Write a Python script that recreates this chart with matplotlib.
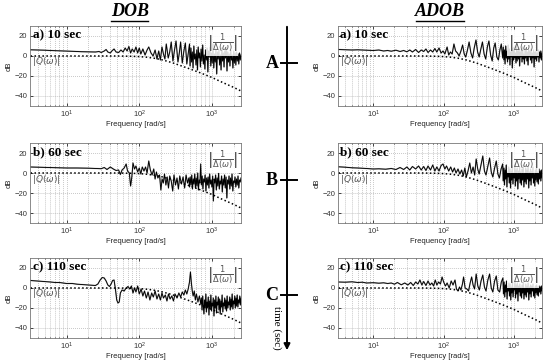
import numpy as np
import matplotlib
matplotlib.use("Agg")
import matplotlib.pyplot as plt
from matplotlib.lines import Line2D
from matplotlib.patches import FancyArrowPatch

# Q filter magnitude (dotted)
q_freq = [3.2, 50, 80, 100, 130, 160, 200, 250, 300, 400, 500, 700, 1000, 1400, 2000, 2500]
q_db = [0, 0, -0.3, -0.6, -1.3, -2.2, -3.6, -5.5, -7.3, -10.5, -13, -17, -21.5, -26.5, -31.5, -35]

# |1/Delta| curves: sparse low-frequency part (freq, dB) + dense high-frequency part (dB)
dob_a_lo = [(3.2, 6.2), (4, 6), (5, 5.8), (6, 5.5), (8, 5.2), (10, 5), (13, 4.6), (16, 4.3), (20, 4.2),
            (25, 4), (28, 4.5), (30, 3.5), (33, 5), (35, 6.5), (37, 4), (40, 3), (42, 5), (45, 7), (48, 4),
            (52, 3.5), (56, 6), (60, 4), (64, 8), (68, 5), (72, 9.5), (76, 3), (80, 7), (85, 4), (90, 9),
            (95, 3), (100, 8), (105, 2), (112, 7), (120, 1), (128, 6), (135, 9), (145, 3), (155, 0),
            (165, 6), (175, -3), (185, 5), (195, -4), (205, 9), (215, 2), (225, -3), (235, 12), (250, -2),
            (262, 4), (275, 14), (290, -5), (305, 6), (320, 15), (340, -6), (355, 3), (370, 14), (390, -7),
            (410, 5), (430, 13), (450, -8), (470, 2), (490, 12)]
dob_a_hi = [-10, 8, -6, 4, -12, 10, -3, 2, -9, 6, -14, 9, -2, 3, -11, 7, -5, 11, -8, 1, -13, 6, -4, 8,
            -16, 5, -1, 9, -10, 3, -7, 12, -12, 2, -6, 7, -18, 4, -3, 6, -9, 1, -14, 8, -5, 3, -11, 5,
            -2, 9, -15, 4, -6, 2, -10, 6, -4, 1, -12, 5, -7, 3, -9, 4, -5, 2, -8, 3, -4, 1]

dob_b_lo = [(3.2, 6), (4, 5.8), (5, 5.5), (7, 5.2), (10, 5), (14, 5), (20, 4.8), (25, 4.5), (30, 4.3),
            (33, 5.5), (36, 3.5), (40, 6), (44, 4), (48, 2.5), (52, 3), (55, -1.5), (58, 3), (62, 5),
            (66, 9), (69, 2), (73, 0), (76, -13), (79, -4), (82, 10), (86, 4), (90, 7), (95, 1), (100, 5),
            (105, -1), (110, 6), (116, 2), (122, 6), (128, 0), (135, 12), (142, 3), (150, -2), (158, 4),
            (165, -6), (172, 1), (180, -5), (190, -2), (198, -17), (206, -6), (214, -10), (222, -1),
            (232, -12), (242, -4), (252, -15), (262, -3), (275, -8), (288, -18), (300, -2), (315, -12),
            (330, -5), (345, -16), (360, -3), (380, -11), (400, -4), (420, -15), (440, -2), (460, -10),
            (480, -5)]
dob_b_hi = [-14, -4, -12, -2, -16, -6, -11, -1, -15, -5, -13, 0, -17, -7, -10, 9, -12, -3, -16, -6,
            -9, -2, -18, -5, -12, -4, -15, -1, -11, -7, -14, -3, -28, -6, -10, -2, -17, -5, -13, 0,
            -16, -8, -11, -3, -19, -6, -12, -2, -15, -4, -25, -7, -11, -3, -16, -5, -13, -1, -18, -8,
            -10, -4, -14, -6, -12, -3, -15, -7, -9, -5]

dob_c_lo = [(3.2, 7.5), (4, 7), (5, 6.5), (6, 6), (7, 5.5), (8, 5.5), (9, 5), (10, 4.5), (12, 4.5),
            (14, 3.8), (16, 3.5), (19, 3.2), (22, 2.8), (25, 2.5), (27, 4), (29, 8), (31, 10.5), (33, 10),
            (35, 7), (37, 3), (39, 1.5), (41, 4), (43, 7.5), (45, 8), (47, -1), (49, -12), (51, -15),
            (53, -14), (55, -5), (58, -2), (62, -3), (66, 0), (70, 1.5), (74, -1), (78, 2), (82, -5),
            (86, 0), (90, -4), (95, 2), (100, -6), (106, -1), (112, -8), (118, -3), (125, -10), (132, -4),
            (140, -12), (148, -5), (156, -9), (165, -3), (175, -11), (185, -6), (195, -12), (205, -5),
            (215, -10), (228, -7), (240, -13), (252, -6), (265, -11), (280, -8), (295, -13), (310, -6),
            (330, -10), (350, -5), (370, -9), (390, -4), (410, -7), (430, -2), (450, -6), (470, -1),
            (490, 6), (505, 16), (520, 5), (535, -3), (550, -8), (570, -3), (590, -12), (610, -6),
            (640, -14), (670, -8), (700, -16)]
dob_c_hi = [-10, -22, -8, -18, -26, -12, -20, -6, -24, -14, -19, -9, -27, -13, -21, -7, -23, -15, -18,
            -10, -28, -12, -20, -8, -25, -14, -17, -9, -22, -11, -26, -13, -19, -7, -24, -15, -18, -10,
            -21, -12, -23, -8, -20, -14, -17, -9, -22, -11, -19, -6, -21, -13, -16, -8, -20, -10, -18,
            -7, -19, -12, -15, -8, -17, -10]

adob_a_lo = [(3.2, 6.5), (4, 6.3), (5, 6), (6, 6.2), (8, 5.8), (10, 5.5), (12, 6), (14, 5), (16, 5.5),
             (18, 4.8), (21, 5.8), (24, 4.5), (27, 5.5), (30, 4.2), (33, 6), (36, 4), (40, 6.5), (44, 3.5),
             (48, 6), (52, 4.5), (56, 7), (60, 3.5), (65, 6), (70, 4), (75, 7.5), (80, 4), (86, 8), (92, 3),
             (98, 5), (104, 2), (112, 9), (118, 1), (125, 4), (132, 2), (140, 12), (148, 5), (157, 3),
             (166, 0), (176, 5), (186, 11), (196, 2), (206, -1), (218, 6), (230, 14), (244, 3), (258, -2),
             (272, 8), (288, 16), (304, 4), (320, -1), (338, 7), (356, 14), (376, 2), (396, -3), (418, 9),
             (440, 15), (465, 1), (490, -5), (515, 8), (540, 13), (570, -1), (600, -4), (630, 6),
             (660, 12), (690, -2)]
adob_a_hi = [9, -4, 6, -8, 10, -2, 5, -6, 11, -3, 7, -9, 4, -1, 8, -12, 6, -4, 9, -2, 3, -7, 10, -5,
             5, -3, 8, -10, 4, -1, 7, -6, 9, -3, 2, -8, 6, -2, 8, -5, 4, -9, 6, -1, 5, -4, 7, -7, 3, -2,
             6, -11, 4, -3, 5, -5, 3, -1, 6, -6, 4, -2, 5, -4, 3]

adob_b_lo = [(3.2, 6.2), (4, 5.8), (5, 5.2), (6, 5), (8, 4.5), (10, 4), (12, 4.2), (15, 3.8), (18, 4.5),
             (21, 3.5), (24, 5.5), (27, 3.5), (30, 6), (33, 3), (36, 6.5), (40, 4), (44, 7), (48, 3),
             (52, 6.5), (56, 2.5), (60, 7), (65, 3), (70, 8), (75, 2), (80, 6), (86, 2), (92, 7.5),
             (98, 9), (104, 4), (110, 7), (118, 2), (126, 6), (134, 1), (142, 5), (150, 0), (160, 4),
             (170, -1), (180, 3), (190, -3), (200, 5), (210, -4), (222, 2), (235, 10), (248, 0), (262, 6),
             (276, -2), (290, 14), (305, 4), (320, -1), (340, 8), (360, 17), (380, 2), (400, -2),
             (425, 7), (450, 15), (475, 1), (500, -4), (530, 5), (560, 12), (590, -1), (620, -5),
             (655, 4), (690, 9)]
adob_b_hi = [-8, 5, -12, 3, -6, 8, -14, 1, -4, 6, -10, 4, -15, 2, -7, 7, -11, 0, -5, 9, -13, 3, -8, 5,
             -16, 2, -6, 6, -10, 1, -12, 4, -7, 8, -14, 0, -9, 5, -11, 3, -6, 7, -15, 1, -8, 4, -12, 2,
             -5, 6, -10, 0, -13, 3, -7, 5, -9, 1, -11, 4, -6, 2, -8, 3, -5]

adob_c_lo = [(3.2, 6), (4, 5.8), (5, 6.2), (6, 5.5), (7, 5.8), (8, 5), (10, 5.3), (12, 4.8), (14, 5.2),
             (16, 4.5), (18, 5), (20, 3.8), (22, 5.5), (25, 3.2), (28, 5), (31, 3), (34, 5.5), (37, 2.5),
             (40, 6), (43, 4), (46, 8), (49, 3), (52, 6.5), (56, 2.5), (60, 7), (64, 3), (68, 5), (72, 2),
             (76, 8), (80, 3), (85, 6), (90, 4), (95, 11), (100, 6), (106, 2), (112, 5), (120, 0),
             (128, 7), (136, 3), (145, 8), (152, -1), (160, -3), (168, 1), (176, -2), (185, 4), (192, 11),
             (202, 0), (214, -1), (226, -3), (238, 5), (250, 11), (262, 3), (275, -1), (290, 14),
             (306, 2), (322, -2), (340, 7), (360, 13), (380, 1), (400, -3), (425, 8), (450, 14), (475, 0),
             (500, -4), (530, 7), (560, 12), (590, -2), (625, -4), (660, 6), (695, 10)]
adob_c_hi = [-6, 6, -9, 3, -4, 7, -11, 2, -3, 5, -8, 4, -12, 1, -5, 6, -9, 0, -2, 7, -10, 3, -6, 5,
             -13, 2, -4, 4, -8, 1, -10, 3, -5, 6, -11, 0, -7, 4, -9, 2, -4, 5, -12, 1, -6, 3, -9, 2,
             -3, 4, -8, 0, -10, 2, -5, 3, -7, 1, -8, 2, -4, 1, -6, 2, -3]

panels = [
    ("a) 10 sec", dob_a_lo, dob_a_hi, "a) 10 sec", adob_a_lo, adob_a_hi),
    ("b) 60 sec", dob_b_lo, dob_b_hi, "b) 60 sec", adob_b_lo, adob_b_hi),
    ("c) 110 sec", dob_c_lo, dob_c_hi, "c) 110 sec", adob_c_lo, adob_c_hi),
]
time_marks = ["A", "B", "C"]

W, H = 550, 362
fig = plt.figure(figsize=(5.5, 3.62), dpi=100)
fig.patch.set_facecolor("white")

serif = "Liberation Serif"
sans = "Liberation Sans"
gray_txt = "#555555"

row_tops = [26, 143, 258]
ax_h = 80


def draw_panel(ax, label, lo, hi):
    lo_f = [p[0] for p in lo]
    lo_v = [p[1] for p in lo]
    hi_f = np.geomspace(lo_f[-1] * 1.02, 2500, len(hi))
    f = np.concatenate([lo_f, hi_f])
    v = np.concatenate([lo_v, hi])
    ax.semilogx(f, v, color="#888888", lw=1.0, alpha=0.7)
    ax.semilogx(f, v, color="black", lw=0.65)
    ax.semilogx(q_freq, q_db, color="black", lw=1.1, ls=(0, (1, 1.6)))
    ax.set_xlim(3.15, 2500)
    ax.set_ylim(-50, 30)
    ax.set_yticks([-40, -20, 0, 20])
    ax.grid(True, which="both", axis="x", ls=":", color="#a8a8a8", lw=0.55)
    ax.grid(True, which="major", axis="y", ls=":", color="#a8a8a8", lw=0.55)
    ax.tick_params(which="both", direction="in", top=True, right=True, labelsize=5.5,
                   labelcolor="#333333", length=2, width=0.5, pad=2)
    ax.tick_params(which="minor", length=1)
    for s in ax.spines.values():
        s.set_linewidth(0.6)
        s.set_color("#777777")
    ax.set_xlabel("Frequency [rad/s]", fontsize=5.5, labelpad=1, color="#222222", family=sans)
    ax.set_ylabel("dB", fontsize=5.5, labelpad=1, color="#222222", family=sans)
    ax.text(0.012, 0.965, label, transform=ax.transAxes, ha="left", va="top",
            fontsize=9.5, fontweight="bold", family=serif)
    ax.text(3.35, -6, r"$|Q(\omega)|$", fontsize=6.5, color=gray_txt, va="center", ha="left")
    ax.text(0.985, 0.78, r"$\left|\frac{1}{\Delta(\omega)}\right|$", transform=ax.transAxes,
            fontsize=8.5, color=gray_txt, ha="right", va="center",
            bbox=dict(facecolor="white", edgecolor="none", pad=0.3, alpha=0.85))
    for t in ax.get_xticklabels() + ax.get_yticklabels():
        t.set_family(sans)


for r, (lab_l, lo_l, hi_l, lab_r, lo_r, hi_r) in enumerate(panels):
    top = row_tops[r]
    bottom = 1 - (top + ax_h) / H
    axl = fig.add_axes([30 / W, bottom, 211 / W, ax_h / H])
    draw_panel(axl, lab_l, lo_l, hi_l)
    axr = fig.add_axes([338 / W, bottom, 204 / W, ax_h / H])
    draw_panel(axr, lab_r, lo_r, hi_r)

# column titles with underline
fig.text(130 / W, 1 - 12 / H, "DOB", ha="center", va="center", fontsize=13,
         fontweight="bold", style="italic", family=serif)
fig.add_artist(Line2D([111 / W, 148 / W], [1 - 20.5 / H] * 2, color="black", lw=1.0))
fig.text(440 / W, 1 - 12 / H, "ADOB", ha="center", va="center", fontsize=13,
         fontweight="bold", style="italic", family=serif)
fig.add_artist(Line2D([416 / W, 464 / W], [1 - 20.5 / H] * 2, color="black", lw=1.0))

# time arrow
fig.add_artist(FancyArrowPatch((287 / W, 1 - 24 / H), (287 / W, 1 - 353 / H),
                               transform=fig.transFigure, arrowstyle="-|>",
                               mutation_scale=9, lw=1.4, color="black"))
for y, m in zip([63, 180, 295], time_marks):
    fig.add_artist(Line2D([281 / W, 297 / W], [1 - y / H] * 2, color="black", lw=1.4))
    fig.text(272 / W, 1 - y / H, m, ha="center", va="center", fontsize=13,
             fontweight="bold", family=serif)
fig.text(277 / W, 1 - 328 / H, "time (sec)", ha="center", va="center", rotation=-90,
         fontsize=8, family=serif)

fig.savefig("out.png", dpi=100)
